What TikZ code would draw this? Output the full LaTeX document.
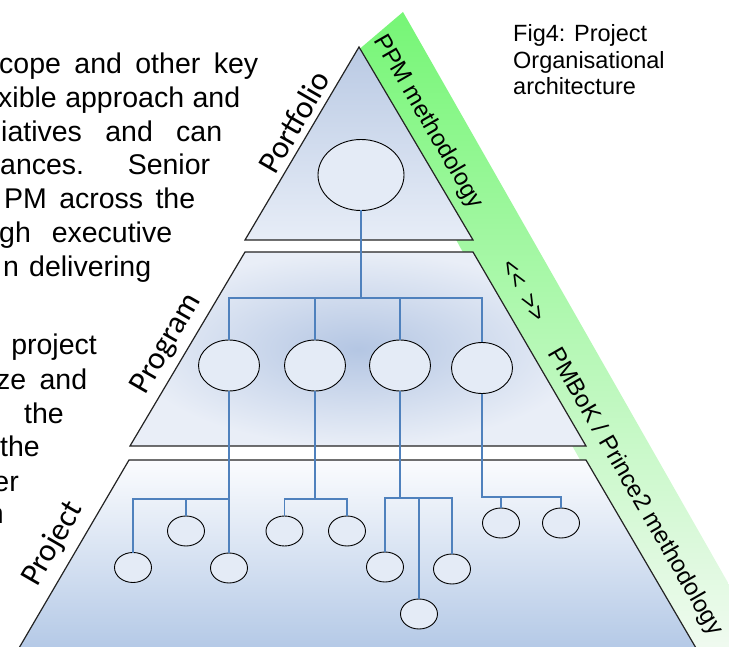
\documentclass[tikz,border=0pt]{standalone}
\usepackage{fontspec}
\setmainfont{Liberation Sans}
\newfontfamily\lblfont{Carlito}
\usetikzlibrary{shapes.geometric}

\definecolor{linkblue}{RGB}{79,129,189}
\definecolor{ellfill}{RGB}{228,235,246}
\definecolor{edgegray}{RGB}{35,35,35}
\definecolor{bandtop}{RGB}{118,246,118}
\definecolor{bandbot}{RGB}{242,250,242}
\definecolor{pfA}{RGB}{186,202,228}
\definecolor{pfB}{RGB}{231,237,247}
\definecolor{pgA}{RGB}{180,198,227}
\definecolor{pgB}{RGB}{233,238,247}
\definecolor{prA}{RGB}{251,252,254}
\definecolor{prB}{RGB}{176,198,229}

\newcommand\parafont{\fontsize{28.5}{33.8}\selectfont}
\newcommand\capfont{\fontsize{23.5}{26.5}\selectfont}
\newcommand\bandfont{\fontsize{24}{28}\selectfont}
\newcommand\tierfont{\lblfont\fontsize{32}{38}\selectfont}
% a justified line: words separated by \hfill inside a box of given width
\newcommand\jline[2]{\hbox to #1pt{#2}}

\begin{document}
\begin{tikzpicture}[x=1pt,y=-1pt,
  section/.style={draw=edgegray,line width=1.2pt,line join=miter},
  bigell/.style={ellipse,draw=black,line width=0.9pt,fill=ellfill,minimum width=86pt,minimum height=71pt,inner sep=0,outer sep=0},
  midell/.style={ellipse,draw=black,line width=0.9pt,fill=ellfill,minimum width=61pt,minimum height=51pt,inner sep=0,outer sep=0},
  smallell/.style={ellipse,draw=black,line width=0.9pt,fill=ellfill,minimum width=37pt,minimum height=30pt,inner sep=0,outer sep=0},
  link/.style={draw=linkblue,line width=1.2pt},
  para/.style={anchor=base west,inner sep=0,font=\parafont},
  parae/.style={anchor=base east,inner sep=0,font=\parafont},
  caption/.style={anchor=base west,inner sep=0,font=\capfont},
  bandtext/.style={inner sep=0,rotate=-60,font=\bandfont},
  tier/.style={inner sep=0,rotate=60,font=\tierfont}]

\path[use as bounding box] (0,0) rectangle (729,647);

\begin{scope}
\clip (0,0) rectangle (729,647);

% methodology band along the right side
\shade[top color=bandtop,bottom color=bandbot]
  (403,12) -- (772,660) -- (693,660) -- (460,247) -- (356,52) -- cycle;

% portfolio tier
\shade[section,top color=pfA,bottom color=pfB]
  (359,47) -- (473,240) -- (245,240) -- cycle;
% program tier
\shade[section,inner color=pgA,outer color=pgB,shading=radial]
  (245,252) -- (473,252) -- (586,446) -- (130,446) -- cycle;
% project tier
\shade[section,top color=prA,bottom color=prB]
  (129,460) -- (586,460) -- (703,660) -- (12,660) -- cycle;

% left-hand body text
\node[para] (l1) at (-1,73.3) {\jline{259}{cope\hfill and\hfill other\hfill key}};
\node[para] (l2) at (-2,107.2) {\jline{242}{xible\hfill approach\hfill and}};
\node[para] (l3) at (1,141.1) {\jline{221}{iatives\hfill and\hfill can}};
\node[para] (l4) at (0,175) {\jline{210}{ances.\hfill Senior}};
\node[para] (l5) at (4,208.9) {\jline{191}{PM\hfill across\hfill the}};
\node[para] (l6) at (-1,242.8) {\jline{173}{gh\hfill executive}};
\node[para] (l7) at (3,276.7) {\jline{148}{n\hfill delivering}};

\node[parae] (m1) at (97,355) {project};
\node[para] (m2) at (-4,389.5) {\jline{91}{ze\hfill and}};
\node[parae] (m3) at (64,423.3) {the};
\node[parae] (m4) at (40,456.7) {the};
\node[parae] (m5) at (19,491.7) {er};
\node[parae] (m6) at (4,523.3) {n};
\end{scope}

% tier names
\node[tier] (tpf) at (294,122) {Portfolio};
\node[tier] (tpg) at (167,344) {Program};
\node[tier] (tpr) at (53,544) {Project};

% band labels
\node[bandtext] (bppm) at (428,122) {PPM methodology};
\node[bandtext] (barr) at (523,291) {<\kern0pt<\hspace{11pt}>\kern0pt>};
\node[bandtext] (bpmb) at (635,492) {PMBoK / Prince2 methodology};

% caption
\node[caption] (c1) at (513,42) {Fig4: Project};
\node[caption] (c2) at (513,68.5) {Organisational};
\node[caption] (c3) at (513,95) {architecture};

% bus levels
\coordinate (busP) at (0,298);
\coordinate (busA) at (0,499);
\coordinate (busB) at (0,499);
\coordinate (busC) at (0,498);
\coordinate (busD) at (0,497);

% units
\node[bigell] (pf) at (361,175) {};
\node[midell] (pg1) at (229,365.5) {};
\node[midell] (pg2) at (315,365.5) {};
\node[midell] (pg3) at (400,365.5) {};
\node[midell] (pg4) at (482,368) {};

\node[smallell] (a1) at (133,567.5) {};
\node[smallell] (a2) at (186,531) {};
\node[smallell] (a3) at (229,568) {};
\node[smallell] (b1) at (284.5,531) {};
\node[smallell] (b2) at (347,531) {};
\node[smallell] (c1e) at (385,567) {};
\node[smallell] (c2e) at (452,569) {};
\node[smallell] (c3e) at (419,614) {};
\node[smallell] (d1) at (501,523) {};
\node[smallell] (d2) at (561,523) {};

% portfolio to programs
\draw[link] (pf.south) -- (pf.south |- busP);
\draw[link] (pg1.north) |- (pg4.north |- busP) -- (pg4.north);
\draw[link] (pg2.north) -- (pg2.north |- busP);
\draw[link] (pg3.north) -- (pg3.north |- busP);

% programs to projects
\draw[link] (pg1.south) -- (a3.north);
\draw[link] (a1.north) |- (a3.north |- busA);
\draw[link] (a2.north) -- (a2.north |- busA);

\draw[link] (pg2.south) -- (pg2.south |- busB);
\draw[link] (b1.north) |- (b2.north |- busB) -- (b2.north);

\draw[link] (pg3.south) -- (pg3.south |- busC);
\draw[link] (c1e.north) |- (c2e.north |- busC) -- (c2e.north);
\draw[link] (c3e.north) -- (c3e.north |- busC);

\draw[link] (pg4.south) -- (pg4.south |- busD) -| (d2.north);
\draw[link] (d1.north) -- (d1.north |- busD);

\end{tikzpicture}
\end{document}
